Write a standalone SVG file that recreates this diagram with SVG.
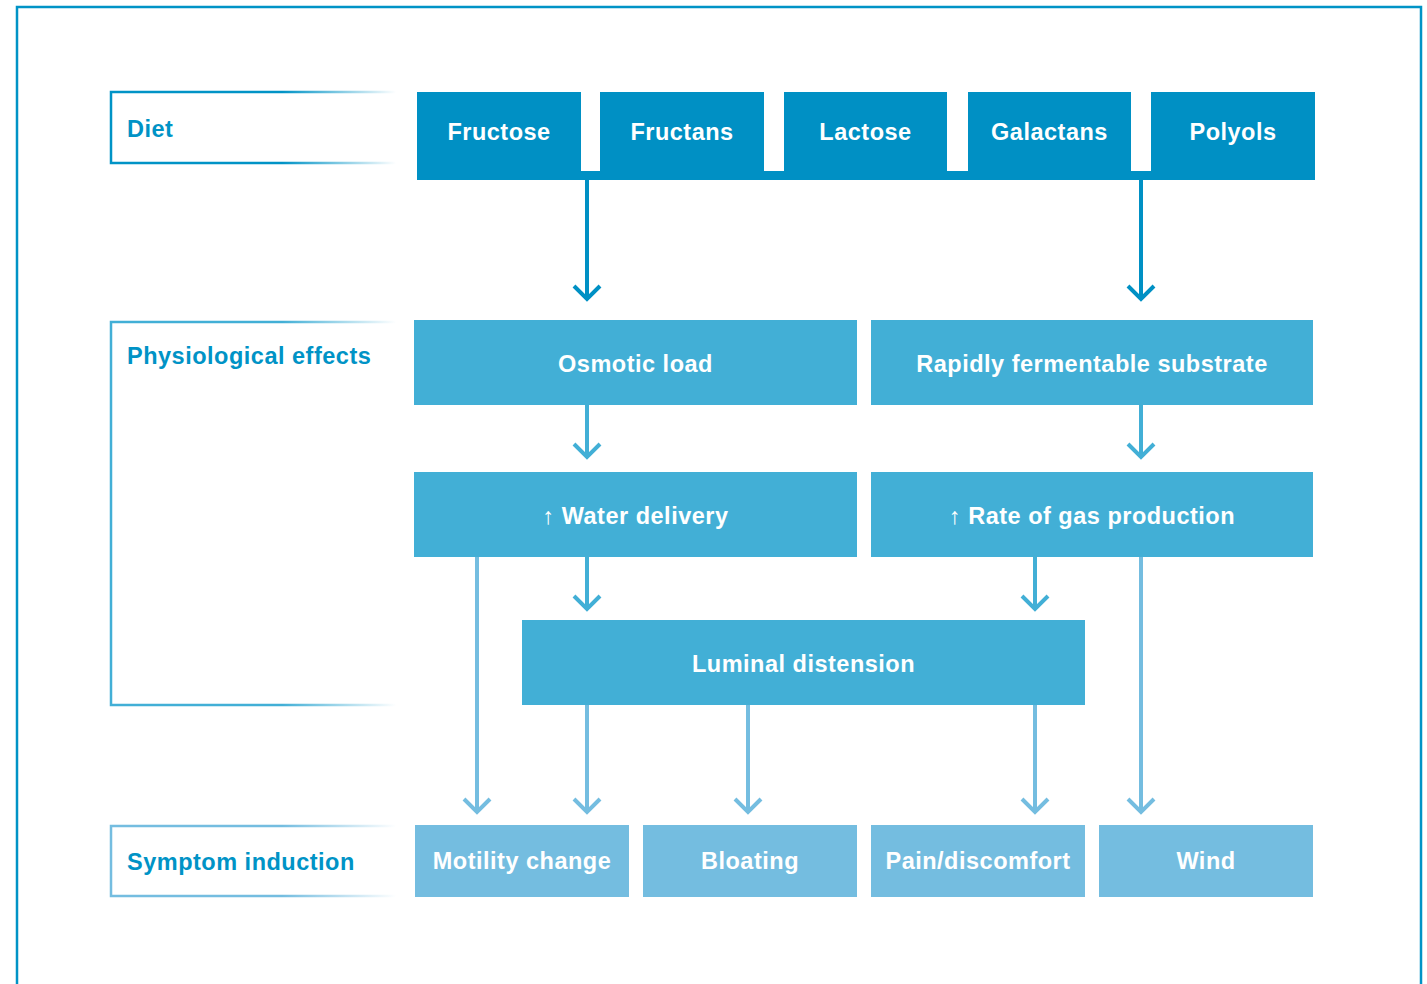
<svg xmlns="http://www.w3.org/2000/svg" width="1427" height="984" viewBox="0 0 1427 984">
<defs>
<linearGradient id="gDark" x1="0" y1="0" x2="1" y2="0"><stop offset="0" stop-color="#0093c6"/><stop offset="0.6" stop-color="#0093c6"/><stop offset="1" stop-color="#0093c6" stop-opacity="0"/></linearGradient>
<linearGradient id="gMid" x1="0" y1="0" x2="1" y2="0"><stop offset="0" stop-color="#42afd6"/><stop offset="0.6" stop-color="#42afd6"/><stop offset="1" stop-color="#42afd6" stop-opacity="0"/></linearGradient>
<linearGradient id="gLight" x1="0" y1="0" x2="1" y2="0"><stop offset="0" stop-color="#74bde0"/><stop offset="0.6" stop-color="#74bde0"/><stop offset="1" stop-color="#74bde0" stop-opacity="0"/></linearGradient>
</defs>
<style>
text{font-family:"Liberation Sans",Arial,sans-serif;font-weight:bold;font-size:23.5px;letter-spacing:0.5px}
.w{fill:#ffffff;text-anchor:middle}
.lab{fill:#0093c6}
.dark{fill:#0090c4}
.mid{fill:#42afd6}
.light{fill:#74bde0}
.cd{stroke:#0090c4;stroke-width:4;fill:none}
.cm{stroke:#42afd6;stroke-width:4;fill:none}
.cl{stroke:#74bde0;stroke-width:4;fill:none}
</style>
<rect x="17" y="7" width="1404" height="1000" fill="none" stroke="#0093c6" stroke-width="2.5"/>

<g id="label-diet">
<path d="M396,92 H111 V163 H396" fill="none" stroke="url(#gDark)" stroke-width="2.5"/>
<text x="127" y="137" class="lab">Diet</text>
</g>
<g id="label-physio">
<path d="M396,322 H111 V705 H396" fill="none" stroke="url(#gMid)" stroke-width="2.5"/>
<text x="127" y="364" class="lab">Physiological effects</text>
</g>
<g id="label-symptom">
<path d="M396,826 H111 V896 H396" fill="none" stroke="url(#gLight)" stroke-width="2.5"/>
<text x="127" y="870" class="lab">Symptom induction</text>
</g>

<g id="diet-bar"><rect x="417" y="171" width="898" height="9" class="dark"/></g>
<g id="fructose"><rect x="417" y="92" width="164" height="82" class="dark"/><text x="499" y="140" class="w">Fructose</text></g>
<g id="fructans"><rect x="600" y="92" width="164" height="82" class="dark"/><text x="682" y="140" class="w">Fructans</text></g>
<g id="lactose"><rect x="784" y="92" width="163" height="82" class="dark"/><text x="865.5" y="140" class="w">Lactose</text></g>
<g id="galactans"><rect x="968" y="92" width="163" height="82" class="dark"/><text x="1049.5" y="140" class="w">Galactans</text></g>
<g id="polyols"><rect x="1151" y="92" width="164" height="82" class="dark"/><text x="1233" y="140" class="w">Polyols</text></g>

<g id="osmotic"><rect x="414" y="320" width="443" height="85" class="mid"/><text x="635.5" y="372" class="w">Osmotic load</text></g>
<g id="rapid"><rect x="871" y="320" width="442" height="85" class="mid"/><text x="1092" y="372" class="w">Rapidly fermentable substrate</text></g>
<g id="water"><rect x="414" y="472" width="443" height="85" class="mid"/><text x="635.5" y="524" class="w">↑ Water delivery</text></g>
<g id="gas"><rect x="871" y="472" width="442" height="85" class="mid"/><text x="1092" y="524" class="w">↑ Rate of gas production</text></g>
<g id="luminal"><rect x="522" y="620" width="563" height="85" class="mid"/><text x="803.5" y="672" class="w">Luminal distension</text></g>

<g id="motility"><rect x="415" y="825" width="214" height="72" class="light"/><text x="522" y="869" class="w">Motility change</text></g>
<g id="bloating"><rect x="643" y="825" width="214" height="72" class="light"/><text x="750" y="869" class="w">Bloating</text></g>
<g id="pain"><rect x="871" y="825" width="214" height="72" class="light"/><text x="978" y="869" class="w">Pain/discomfort</text></g>
<g id="wind"><rect x="1099" y="825" width="214" height="72" class="light"/><text x="1206" y="869" class="w">Wind</text></g>

<g id="connectors">
<path class="cd" d="M587,180 V298 M574,286 L587,299 L600,286"/>
<path class="cd" d="M1141,180 V298 M1128,286 L1141,299 L1154,286"/>
<path class="cm" d="M587,405 V456 M574,444 L587,457 L600,444"/>
<path class="cm" d="M1141,405 V456 M1128,444 L1141,457 L1154,444"/>
<path class="cm" d="M587,557 V608 M574,596 L587,609 L600,596"/>
<path class="cm" d="M1035,557 V608 M1022,596 L1035,609 L1048,596"/>
<path class="cl" d="M477,557 V811 M464,799 L477,812 L490,799"/>
<path class="cl" d="M587,705 V811 M574,799 L587,812 L600,799"/>
<path class="cl" d="M748,705 V811 M735,799 L748,812 L761,799"/>
<path class="cl" d="M1035,705 V811 M1022,799 L1035,812 L1048,799"/>
<path class="cl" d="M1141,557 V811 M1128,799 L1141,812 L1154,799"/>
</g>
</svg>
